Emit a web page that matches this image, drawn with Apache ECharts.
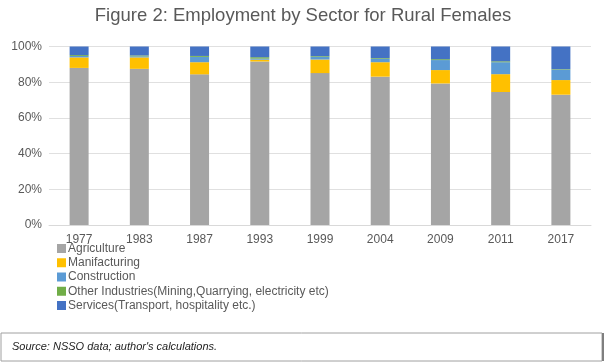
<!DOCTYPE html>
<html>
<head>
<meta charset="utf-8">
<script src="https://cdn.jsdelivr.net/npm/echarts@6/dist/echarts.min.js"></script>
<style>html,body{margin:0;padding:0;background:#fff;}#c{width:606px;height:363px;}</style>
</head>
<body>
<div id="c"></div>
<script>
const years = ['1977','1983','1987','1993','1999','2004','2009','2011','2017'];
const agriculture   = [88.0, 87.5, 84.4, 91.6, 85.1, 83.1, 79.3, 74.5, 73.0];
const manufacturing = [5.9, 6.4, 6.8, 1.0, 7.6, 8.1, 7.5, 10.0, 8.2];
const construction  = [0.8, 0.6, 3.0, 0.6, 1.5, 1.9, 5.6, 6.7, 5.8];
const otherInd      = [0.5, 0.5, 0.5, 0.8, 0.4, 0.4, 0.5, 0.5, 0.3];
const services      = [4.8, 5.0, 5.3, 6.0, 5.4, 6.5, 7.1, 8.3, 12.7];
const seriesNames = ['Agriculture','Manifacturing','Construction','Other Industries(Mining,Quarrying, electricity etc)','Services(Transport, hospitality etc.)'];
const colors = ['#a5a5a5','#ffc000','#5b9bd5','#70ad47','#4472c4'];
const yTicks = ['0%','20%','40%','60%','80%','100%'];

const chart = echarts.init(document.getElementById('c'), null, {renderer:'canvas'});
const dataSets = [agriculture, manufacturing, construction, otherInd, services];
chart.setOption({
  animation:false,
  textStyle:{fontFamily:'Liberation Sans, Arial, sans-serif'},
  title:{
    text:'Figure 2: Employment by Sector for Rural Females',
    left:'center', top:1,
    textStyle:{fontSize:18.5, fontWeight:'normal', color:'#595959', fontFamily:'Liberation Sans, Arial, sans-serif'}
  },
  legend:{
    orient:'vertical', left:52, top:237,
    itemWidth:9, itemHeight:9, itemGap:1.25,
    icon:'rect',
    textStyle:{fontSize:12, color:'#595959', lineHeight:13, padding:[0,0,0,-3]},
    data:seriesNames
  },
  grid:{left:49, right:15, top:46.5, bottom:138},
  xAxis:{
    type:'category', data:years,
    axisTick:{show:false},
    axisLine:{lineStyle:{color:'#d9d9d9'}},
    axisLabel:{fontSize:12, color:'#595959', margin:9}
  },
  yAxis:{
    type:'value', min:0, max:100, interval:20,
    axisLabel:{fontSize:12, color:'#595959', margin:7, formatter:(v)=>yTicks[Math.round(v/20)]},
    splitLine:{lineStyle:{color:'#e0e0e0'}},
    axisLine:{show:false}, axisTick:{show:false}
  },
  series: dataSets.map((d,i)=>({
    name:seriesNames[i], type:'bar', stack:'total', data:d,
    barWidth:19, itemStyle:{color:colors[i]}
  })),
  graphic:[
    {type:'rect', shape:{x:1, y:333, width:601, height:28}, style:{fill:'#fff', stroke:'#a0a0a0', lineWidth:1}},
    {type:'line', shape:{x1:603, y1:333, x2:603, y2:361}, style:{stroke:'#7f7f7f', lineWidth:2}},
    {type:'text', left:12, top:341, style:{text:"Source: NSSO data; author's calculations.", fontSize:11, fontStyle:'italic', fill:'#222', fontFamily:'Liberation Sans, Arial, sans-serif'}}
  ]
});
</script>
</body>
</html>
